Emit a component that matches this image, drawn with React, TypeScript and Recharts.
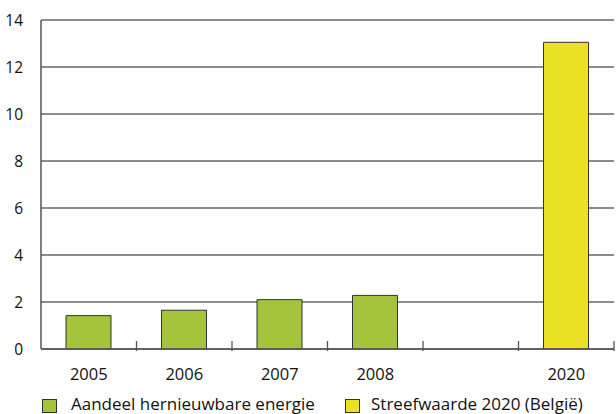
import React from 'react';
import { BarChart, Bar, XAxis, YAxis, CartesianGrid, Legend } from 'recharts';

const categories = ['2005', '2006', '2007', '2008', '', '2020'];
const aandeel: (number | null)[] = [1.42, 1.65, 2.1, 2.28, null, null];
const streefwaarde: (number | null)[] = [null, null, null, null, null, 13.05];
const yTicks = [0, 2, 4, 6, 8, 10, 12, 14];
const legendLabels = ['Aandeel hernieuwbare energie', 'Streefwaarde 2020 (België)'];

const GREEN = '#a3c43b';
const YELLOW = '#ebe124';
const FONT = '"Open Sans", "Noto Sans", sans-serif';

const data = categories.map((c, i) => ({
  name: c,
  aandeel: aandeel[i],
  streef: streefwaarde[i],
}));

const W = 616;
const H = 414;
const M = { top: 20, right: 2, left: 0, bottom: 0 };
const Y_W = 41;
const PLOT_W = W - M.left - M.right - Y_W;
const BAND = PLOT_W / categories.length;

const XTick = (props: any) => {
  const { x, y, payload } = props;
  const axisY = y;
  return (
    <g>
      <line x1={x + BAND / 2} x2={x + BAND / 2} y1={axisY} y2={axisY - 10} stroke="#555" strokeWidth={1.3} />
      <text x={x} y={axisY + 29} textAnchor="middle" fontSize={16.5} fill="#111" fontFamily={FONT}>
        {payload.value}
      </text>
    </g>
  );
};

const LegendContent = () => (
  <svg width={W} height={25} style={{ display: 'block' }}>
    <rect x={42.5} y={10.5} width={14} height={13} fill={GREEN} stroke="#333" strokeWidth={1} />
    <text x={71} y={20.5} fontSize={17} fill="#111" fontFamily={FONT}>{legendLabels[0]}</text>
    <rect x={345.5} y={10.5} width={14} height={13} fill={YELLOW} stroke="#333" strokeWidth={1} />
    <text x={371} y={20.5} fontSize={17} fill="#111" fontFamily={FONT}>{legendLabels[1]}</text>
  </svg>
);

export default function App() {
  return (
    <div style={{ position: 'absolute', left: 0, top: 0, width: W, height: H, background: '#fff', overflow: 'hidden' }}>
      <BarChart width={W} height={H} data={data} margin={M} barCategoryGap={0}>
        <CartesianGrid horizontal vertical={false} stroke="#666" strokeWidth={1.5} />
        <XAxis
          dataKey="name"
          height={40}
          axisLine={{ stroke: '#555', strokeWidth: 1.5 }}
          tickLine={false}
          tickSize={0}
          tick={<XTick />}
          interval={0}
        />
        <YAxis
          width={Y_W}
          domain={[0, 14]}
          ticks={yTicks}
          interval={0}
          axisLine={{ stroke: '#555', strokeWidth: 1.5 }}
          tickLine={false}
          tickMargin={12}
          tick={{ fontSize: 15.5, fill: '#111', fontFamily: FONT }}
        />
        <Legend verticalAlign="bottom" align="left" height={25} content={<LegendContent />} />
        <Bar dataKey="aandeel" name={legendLabels[0]} stackId="a" fill={GREEN} stroke="#333" strokeWidth={1} barSize={45} isAnimationActive={false} />
        <Bar dataKey="streef" name={legendLabels[1]} stackId="a" fill={YELLOW} stroke="#333" strokeWidth={1} barSize={45} isAnimationActive={false} />
      </BarChart>
    </div>
  );
}
